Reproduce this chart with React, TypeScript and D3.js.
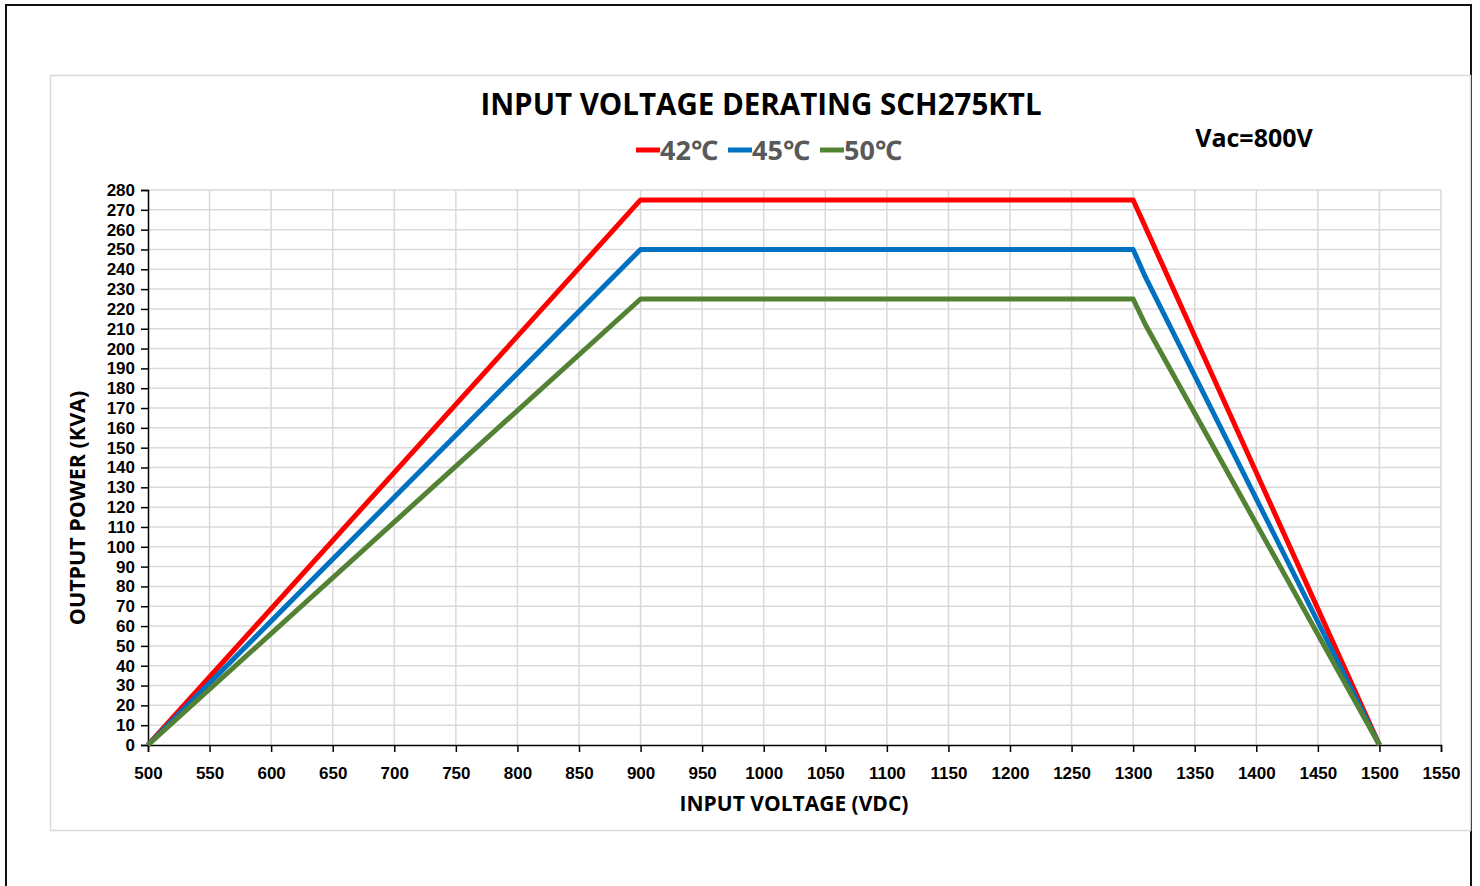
import * as d3 from 'd3';
import { useEffect, useRef } from 'react';

const W = 1480;
const H = 886;

// input voltage (VDC) -> output power (kVA)
const volts42 = [500, 900, 1300, 1500];
const power42 = [0, 275, 275, 0];
const volts45 = [500, 900, 1300, 1310, 1500];
const power45 = [0, 250, 250, 236, 0];
const volts50 = [500, 900, 1300, 1310, 1500];
const power50 = [0, 225, 225, 212, 0];

const seriesNames = ['42℃', '45℃', '50℃'];
const seriesColors = ['#ff0000', '#0070c0', '#548235'];

const xTicks = d3.range(500, 1551, 50);
const yTicks = d3.range(0, 281, 10);

const font = "'Open Sans', 'Noto Sans', sans-serif";
const tickFont = "'Liberation Sans', Arial, sans-serif";

export default function App() {
  const ref = useRef<SVGSVGElement>(null);

  useEffect(() => {
    const svg = d3.select(ref.current);
    svg.selectAll('*').remove();

    const margin = { left: 148, right: W - 1441, top: 190, bottom: H - 745 };
    const x = d3.scaleLinear().domain([500, 1550]).range([margin.left, W - margin.right]);
    const y = d3.scaleLinear().domain([0, 280]).range([H - margin.bottom, margin.top]);

    svg.append('rect').attr('width', W).attr('height', H).attr('fill', '#fff');

    // outer frame and chart area
    svg
      .append('rect')
      .attr('x', 6)
      .attr('y', 5)
      .attr('width', 1465)
      .attr('height', 900)
      .attr('fill', 'none')
      .attr('stroke', '#111')
      .attr('stroke-width', 2);
    svg
      .append('rect')
      .attr('x', 50.5)
      .attr('y', 75.5)
      .attr('width', 1420)
      .attr('height', 755)
      .attr('fill', 'none')
      .attr('stroke', '#d9d9d9')
      .attr('stroke-width', 1.5);

    // grid
    const grid = svg.append('g').attr('stroke', '#d9d9d9').attr('stroke-width', 1.5);
    grid
      .selectAll('line.v')
      .data(xTicks.slice(1))
      .join('line')
      .attr('class', 'v')
      .attr('x1', (d) => x(d))
      .attr('x2', (d) => x(d))
      .attr('y1', y(0))
      .attr('y2', y(280));
    grid
      .selectAll('line.h')
      .data(yTicks.slice(1))
      .join('line')
      .attr('class', 'h')
      .attr('x1', x(500))
      .attr('x2', x(1550))
      .attr('y1', (d) => y(d))
      .attr('y2', (d) => y(d));

    // axes
    const xAxis = svg
      .append('g')
      .attr('transform', `translate(0,${y(0)})`)
      .call(d3.axisBottom(x).tickValues(xTicks).tickSize(7).tickPadding(15).tickFormat(d3.format('d')));
    const yAxis = svg
      .append('g')
      .attr('transform', `translate(${x(500)},0)`)
      .call(d3.axisLeft(y).tickValues(yTicks).tickSize(7).tickPadding(6).tickFormat(d3.format('d')));
    [xAxis, yAxis].forEach((a) => {
      a.select('.domain').attr('stroke', '#000').attr('stroke-width', 1.5);
      a.selectAll('.tick line').attr('stroke', '#000').attr('stroke-width', 1.5);
      a.selectAll('.tick text')
        .attr('fill', '#000')
        .style('font-family', tickFont)
        .style('font-weight', 700)
        .style('font-size', '17px');
    });

    // lines
    const series = [
      volts42.map((v, i) => [v, power42[i]]),
      volts45.map((v, i) => [v, power45[i]]),
      volts50.map((v, i) => [v, power50[i]]),
    ];
    const line = d3
      .line<number[]>()
      .x((d) => x(d[0]))
      .y((d) => y(d[1]));
    svg
      .append('g')
      .selectAll('path')
      .data(series)
      .join('path')
      .attr('d', (d) => line(d))
      .attr('fill', 'none')
      .attr('stroke', (d, i) => seriesColors[i])
      .attr('stroke-width', 5)
      .attr('stroke-linejoin', 'round');

    // titles
    svg
      .append('text')
      .attr('x', 761)
      .attr('y', 115)
      .attr('text-anchor', 'middle')
      .style('font-family', font)
      .style('font-weight', 700)
      .style('font-size', '29.5px')
      .text('INPUT VOLTAGE DERATING SCH275KTL');
    svg
      .append('text')
      .attr('x', 1254)
      .attr('y', 147)
      .attr('text-anchor', 'middle')
      .style('font-family', font)
      .style('font-weight', 700)
      .style('font-size', '25px')
      .text('Vac=800V');
    svg
      .append('text')
      .attr('x', 794)
      .attr('y', 811)
      .attr('text-anchor', 'middle')
      .style('font-family', font)
      .style('font-weight', 700)
      .style('font-size', '21px')
      .text('INPUT VOLTAGE (VDC)');
    svg
      .append('text')
      .attr('transform', 'translate(85,508) rotate(-90)')
      .attr('text-anchor', 'middle')
      .style('font-family', font)
      .style('font-weight', 700)
      .style('font-size', '21.5px')
      .text('OUTPUT POWER (KVA)');

    // legend
    const legendX = [636, 728, 820];
    const legend = svg
      .append('g')
      .selectAll('g')
      .data(seriesNames)
      .join('g')
      .attr('transform', (d, i) => `translate(${legendX[i]},150)`);
    legend
      .append('line')
      .attr('x1', 0)
      .attr('x2', 24)
      .attr('stroke', (d, i) => seriesColors[i])
      .attr('stroke-width', 5);
    legend
      .append('text')
      .attr('x', 24)
      .attr('y', 10)
      .attr('fill', '#595959')
      .style('font-family', font)
      .style('font-weight', 700)
      .style('font-size', '27px')
      .text((d) => d);
  }, []);

  return (
    <div style={{ position: 'absolute', left: 0, top: 0 }}>
      <svg ref={ref} width={W} height={H} style={{ display: 'block' }} />
    </div>
  );
}
